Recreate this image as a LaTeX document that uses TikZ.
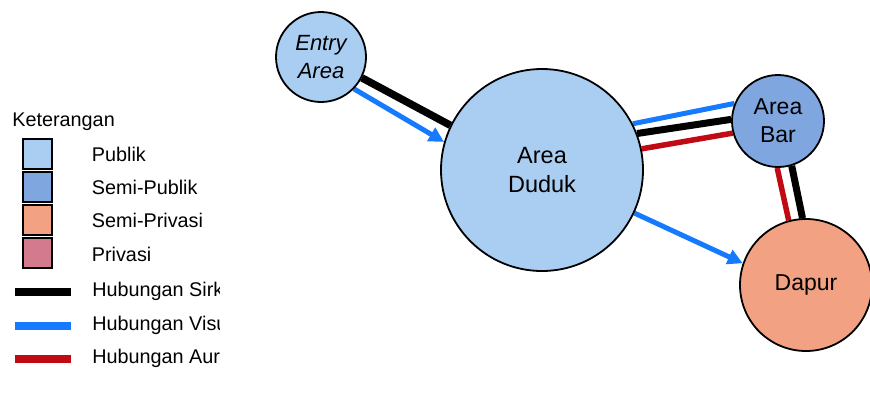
\documentclass[tikz,border=0pt]{standalone}
\usepackage{fontspec}
\setmainfont{Liberation Sans}
\usetikzlibrary{arrows.meta,backgrounds}

\definecolor{publik}{RGB}{170,205,242}
\definecolor{semipublik}{RGB}{128,166,224}
\definecolor{semiprivasi}{RGB}{242,162,130}
\definecolor{privasi}{RGB}{212,122,142}
\definecolor{visblue}{RGB}{22,122,255}
\definecolor{audred}{RGB}{192,10,20}

\tikzset{
  room/.style={circle, draw=black, line width=1.8pt, inner sep=0pt, align=center},
  sirk/.style={line width=7pt, black},
  visu/.style={line width=5pt, visblue},
  aur/.style={line width=5.5pt, audred},
  visarrow/.style={visu, -{Triangle[length=15pt,width=15pt]}},
  keybox/.style={draw=black, line width=2pt, minimum width=29pt, minimum height=30pt, inner sep=0pt},
  keytext/.style={anchor=base west, inner sep=0pt, font=\fontsize{19.8}{24}\selectfont},
  keyline/.style={line width=8pt},
}

\begin{document}
\begin{tikzpicture}[x=1pt,y=-1pt]
\useasboundingbox (0,0) rectangle (870,392);

% rooms
\node[room, fill=publik, minimum size=90pt,
      font=\fontsize{22}{28}\selectfont\itshape] (entry) at (321,57) {Entry\\Area};
\node[room, fill=publik, minimum size=202pt,
      font=\fontsize{23.5}{29}\selectfont] (duduk) at (542,170) {Area\\Duduk};
\node[room, fill=semipublik, minimum size=92pt,
      font=\fontsize{23}{28}\selectfont] (bar) at (778,121) {Area\\Bar};
\node[room, fill=semiprivasi, minimum size=132pt,
      font=\fontsize{23}{28}\selectfont] (dapur) at (806,285) {Dapur};

% relations between rooms
\begin{scope}[on background layer]
  \draw[sirk, line width=7.5pt] (entry.-27) -- (duduk.154.4);
  \draw[visarrow] (entry.-44) -- (duduk.164.4);

  \draw[visu] (duduk.27.3) -- (bar.158.2);
  \draw[sirk] (duduk.21.3) -- (bar.178.7);
  \draw[aur]  (duduk.12.6) -- (bar.-165);

  \draw[aur]  (bar.-91.2) -- (dapur.105.8);
  \draw[sirk] (bar.-73) -- (dapur.93.4);

  \draw[visarrow] (duduk.-25.8) -- (dapur.161);
\end{scope}

% legend
\node[keytext] (ket) at (12.2,126) {Keterangan};

\node[keybox, fill=publik]      (k1) at (37.5,154.3) {};
\node[keybox, fill=semipublik]  (k2) at (37.5,186.7) {};
\node[keybox, fill=semiprivasi] (k3) at (37.5,219.5) {};
\node[keybox, fill=privasi]     (k4) at (37.5,253) {};

\node[keytext] (t1) at (91.7,161)   {Publik};
\node[keytext] (t2) at (91.7,194.3) {Semi-Publik};
\node[keytext] (t3) at (91.7,227.7) {Semi-Privasi};
\node[keytext] (t4) at (91.7,261)   {Privasi};

\draw[keyline, black]   (15,291.7) -- (70.7,291.7);
\draw[keyline, visblue] (15,325.7) -- (70.7,325.7);
\draw[keyline, audred]  (15,359.3) -- (70.7,359.3);

\begin{scope}
  \clip (80,270) rectangle (219.5,385);
  \node[keytext] (t5) at (92.2,296.7) {Hubungan Sirkulasi};
  \node[keytext] (t6) at (92.2,330)   {Hubungan Visual};
  \node[keytext] (t7) at (92.2,363.3) {Hubungan Aural};
\end{scope}
\end{tikzpicture}
\end{document}
